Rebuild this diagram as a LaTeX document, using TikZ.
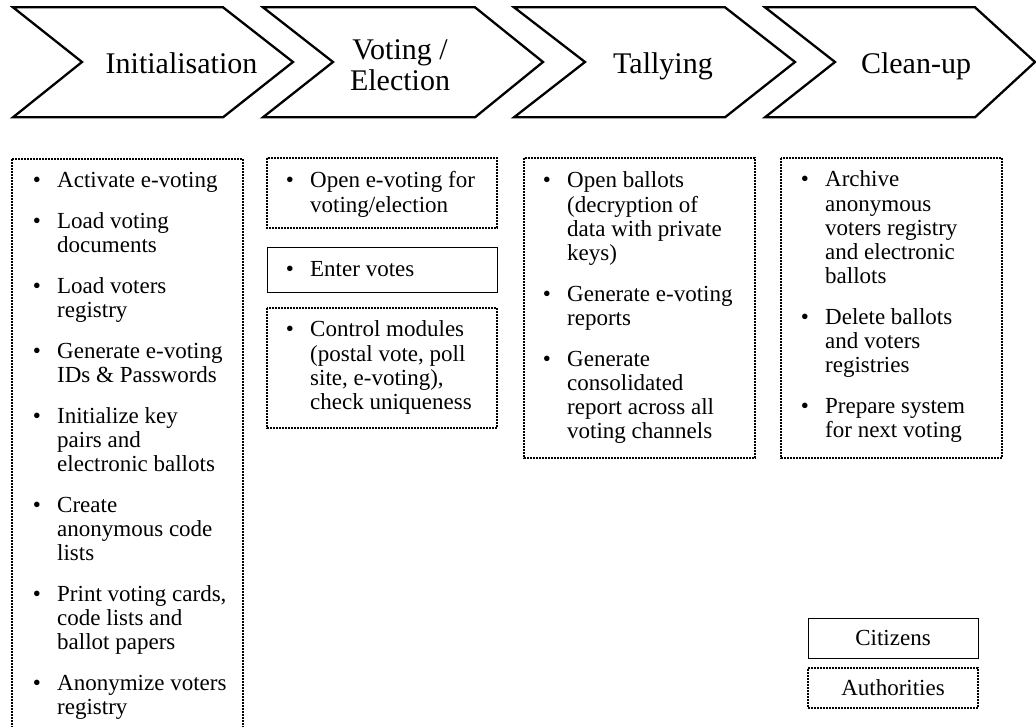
\documentclass[tikz,border=0pt]{standalone}
\usepackage{fontspec}
\setmainfont{Liberation Serif}
\usepackage{array}
\tikzset{
  chev/.style={draw=black, line width=2.3pt, line join=miter},
  chevlabel/.style={font=\fontsize{30}{30.7}\selectfont, align=center, inner sep=0pt, anchor=base},
  authbox/.style={draw=black, line width=1.2pt, dash pattern=on 2pt off 1pt},
  citbox/.style={draw=black, line width=1pt},
  itemtext/.style={font=\fontsize{23}{24.2}\selectfont, inner sep=0pt, anchor=base west},
  legendbox/.style={minimum width=170pt, minimum height=40pt, inner sep=0pt, font=\fontsize{23}{24}\selectfont, text height=15.5pt, text depth=0pt}
}
\newcommand{\bul}{\textbullet}
\newcommand{\sep}{\\[16.5pt]}
\newenvironment{blist}{\renewcommand{\arraystretch}{1}\begin{tabular}[t]{@{}p{24.3pt}@{}l@{}}}{\end{tabular}}
\begin{document}
\begin{tikzpicture}[x=1pt,y=-1pt]
\useasboundingbox (0,0) rectangle (1036,727);
% chevrons
\draw[chev] (13,7.3) -- (223,7.3) -- (293,62) -- (223,117.3) -- (13,117.3) -- (82,62) -- cycle;
\draw[chev] (263,7.3) -- (475,7.3) -- (543,62) -- (475,117.3) -- (263,117.3) -- (333,62) -- cycle;
\draw[chev] (514,7.3) -- (725,7.3) -- (795,62) -- (725,117.3) -- (514,117.3) -- (585,62) -- cycle;
\draw[chev] (765,7.3) -- (975,7.3) -- (1035,62) -- (975,117.3) -- (765,117.3) -- (835,62) -- cycle;
\node[chevlabel] (l1) at (181.5,74) {Initialisation};
\node[chevlabel] (l2) at (400,90.7) {Voting /\\Election};
\node[chevlabel] (l3) at (663,74) {Tallying};
\node[chevlabel] (l4) at (916,74) {Clean-up};
% boxes
\draw[authbox] (12,159) rectangle (243,760);
\draw[authbox] (267,158) rectangle (497,228);
\draw[citbox] (267,248) rectangle (497,293);
\draw[authbox] (267,308) rectangle (497,428);
\draw[authbox] (524,158) rectangle (755,458);
\draw[authbox] (781,158) rectangle (1002,458);
% lists
\node[itemtext] (t1) at (32.7,188) {\begin{blist}
\bul & Activate e-voting\sep
\bul & Load voting\\ & documents\sep
\bul & Load voters\\ & registry\sep
\bul & Generate e-voting\\ & IDs \& Passwords\sep
\bul & Initialize key\\ & pairs and\\ & electronic ballots\sep
\bul & Create\\ & anonymous code\\ & lists\sep
\bul & Print voting cards,\\ & code lists and\\ & ballot papers\sep
\bul & Anonymize voters\\ & registry
\end{blist}};
\node[itemtext] (t2a) at (285.7,188) {\begin{blist}
\bul & Open e-voting for\\ & voting/election
\end{blist}};
\node[itemtext] (t2b) at (285.7,277) {\begin{blist}
\bul & Enter votes
\end{blist}};
\node[itemtext] (t2c) at (285.7,337) {\begin{blist}
\bul & Control modules\\ & (postal vote, poll\\ & site, e-voting),\\ & check uniqueness
\end{blist}};
\node[itemtext] (t3) at (542.7,188) {\begin{blist}
\bul & Open ballots\\ & (decryption of\\ & data with private\\ & keys)\sep
\bul & Generate e-voting\\ & reports\sep
\bul & Generate\\ & consolidated\\ & report across all\\ & voting channels
\end{blist}};
\node[itemtext] (t4) at (800.7,187) {\begin{blist}
\bul & Archive\\ & anonymous\\ & voters registry\\ & and electronic\\ & ballots\sep
\bul & Delete ballots\\ & and voters\\ & registries\sep
\bul & Prepare system\\ & for next voting
\end{blist}};
% legend
\node[legendbox, citbox] (cit) at (893,638) {Citizens};
\node[legendbox, authbox] (aut) at (893,688) {Authorities};
\end{tikzpicture}
\end{document}
